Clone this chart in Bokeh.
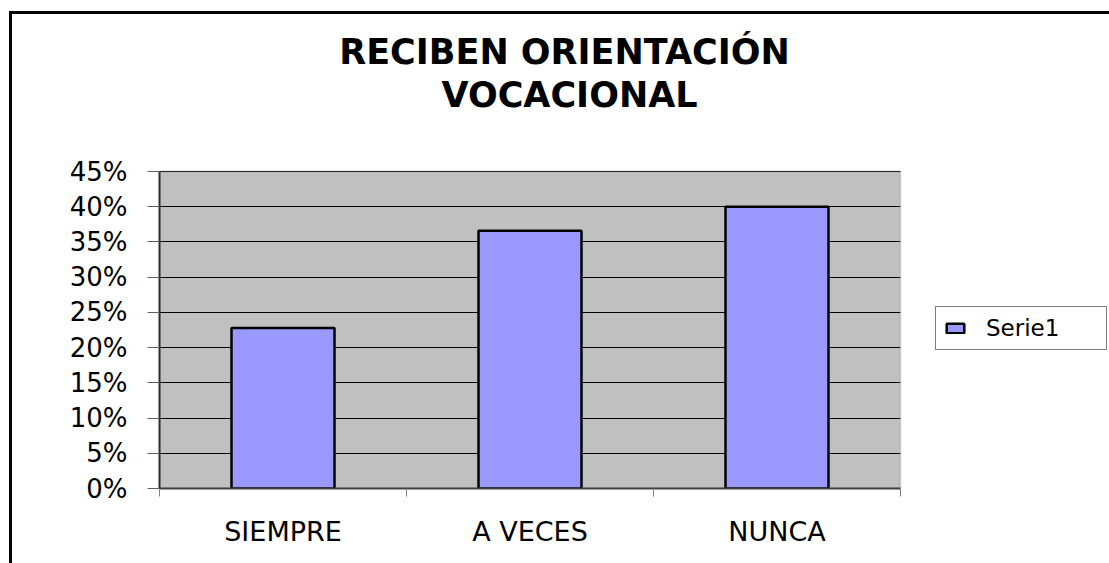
from bokeh.plotting import figure
from bokeh.models import (Range1d, LinearAxis, FixedTicker, NumeralTickFormatter,
                          Legend, LegendItem, Label, BoxAnnotation, ColumnDataSource)
from bokeh.embed import file_html
from bokeh.resources import INLINE

# ---- data ----
categories = ["SIEMPRE", "A VECES", "NUNCA"]
values = [0.228, 0.366, 0.40]
y_ticks = [0.0, 0.05, 0.10, 0.15, 0.20, 0.25, 0.30, 0.35, 0.40, 0.45]
series_name = "Serie1"
title_lines = ["RECIBEN ORIENTACIÓN", "VOCACIONAL"]

# ---- layout (pixels) ----
W, H = 1109, 563
FONT = "DejaVu Sans"
PLOT_L, PLOT_R, PLOT_T, PLOT_B = 159, 900, 171, 488   # plot area in the picture

n = len(categories)
centers = [i + 0.5 for i in range(n)]
edges = list(range(n + 1))
y_max = y_ticks[-1]
# the frame spans from the top of the canvas to the plot bottom, and to the right edge;
# ranges are extended so that the category/percent area lands on the plot area
x_end = edges[-1] * (W - PLOT_L) / (PLOT_R - PLOT_L)
y_end = y_max * PLOT_B / (PLOT_B - PLOT_T)

p = figure(width=W, height=H, title=None,
           x_range=Range1d(edges[0], x_end),
           y_range=Range1d(0, y_end),
           output_backend="svg", toolbar_location=None,
           x_axis_location=None, y_axis_location="left",
           min_border_left=PLOT_L, min_border_right=0,
           min_border_top=0, min_border_bottom=H - PLOT_B)

p.background_fill_alpha = 0.0
p.border_fill_color = "white"
p.border_fill_alpha = 0.0
p.outline_line_color = None
# outer chart border (left and top edges visible in the picture)
p.styles = {"box-shadow": "inset 9px 11px 0 0 #ffffff, inset 12px 14px 0 0 #000000"}

# grey plot-area background (below grid lines)
p.add_layout(BoxAnnotation(left=edges[0], right=edges[-1], bottom=0, top=y_max,
                           fill_color="#C0C0C0", fill_alpha=1.0, line_color=None,
                           level="image"))

p.xgrid.visible = False
p.ygrid.grid_line_color = "black"
p.ygrid.grid_line_width = 1
p.ygrid.ticker = FixedTicker(ticks=y_ticks)

# hide grid lines to the right of the plot area
p.add_layout(BoxAnnotation(left=edges[-1], bottom=0, top=y_max * 1.03,
                           fill_color="white", fill_alpha=1.0, line_color=None,
                           level="underlay"))

yax = p.yaxis[0]
yax.bounds = (0, y_max)
yax.ticker = FixedTicker(ticks=y_ticks)
yax.formatter = NumeralTickFormatter(format="0%")
yax.major_tick_out = 12
yax.major_tick_in = 0
yax.minor_tick_out = 0
yax.minor_tick_in = 0
yax.major_tick_line_color = "#606060"
yax.axis_line_color = "#303030"
yax.axis_line_width = 2
yax.major_label_text_font = FONT
yax.major_label_text_font_size = "26px"
yax.major_label_text_color = "black"
yax.major_label_standoff = 20

# bottom axis: labels at category centres, small ticks at category boundaries
xax = LinearAxis(ticker=FixedTicker(ticks=centers, minor_ticks=edges),
                 bounds=(edges[0], edges[-1]),
                 major_label_overrides={c: lab for c, lab in zip(centers, categories)},
                 axis_line_color="#404040", axis_line_width=2,
                 major_tick_line_color=None, major_tick_out=0, major_tick_in=0,
                 minor_tick_line_color="#808080", minor_tick_out=8, minor_tick_in=0,
                 major_label_text_font=FONT,
                 major_label_text_font_size="27px",
                 major_label_text_color="black",
                 major_label_standoff=19)
p.add_layout(xax, "below")

src = ColumnDataSource(data=dict(x=centers, top=values, cat=categories))
bars = p.vbar(x="x", top="top", width=0.417, source=src,
              fill_color="#9999FF", line_color="black", line_width=2.5)

# plot-area border (grey top/right)
p.add_layout(BoxAnnotation(left=edges[0], right=edges[-1], bottom=0, top=y_max,
                           fill_alpha=0.0, line_color="#808080", line_width=2,
                           level="underlay"))

legend = Legend(items=[LegendItem(label=series_name, renderers=[bars])],
                location=(935 - PLOT_L, PLOT_B - 350), orientation="vertical",
                glyph_width=22, glyph_height=12,
                label_text_font=FONT, label_text_font_size="23px",
                label_text_color="black",
                label_standoff=20, label_width=112,
                padding=8, margin=0, spacing=0,
                border_line_color="black", border_line_width=1,
                background_fill_color="white", background_fill_alpha=1.0)
p.add_layout(legend, "center")

title_x = [564, 569]
title_y = [51, 94]
for txt, tx, ty in zip(title_lines, title_x, title_y):
    p.add_layout(Label(x=tx, y=ty, x_units="canvas", y_units="canvas",
                       text=txt, text_align="center", text_baseline="middle",
                       text_font=FONT, text_font_style="bold",
                       text_font_size="35px", text_color="black"))

open("out.html", "w").write(file_html(p, INLINE))
